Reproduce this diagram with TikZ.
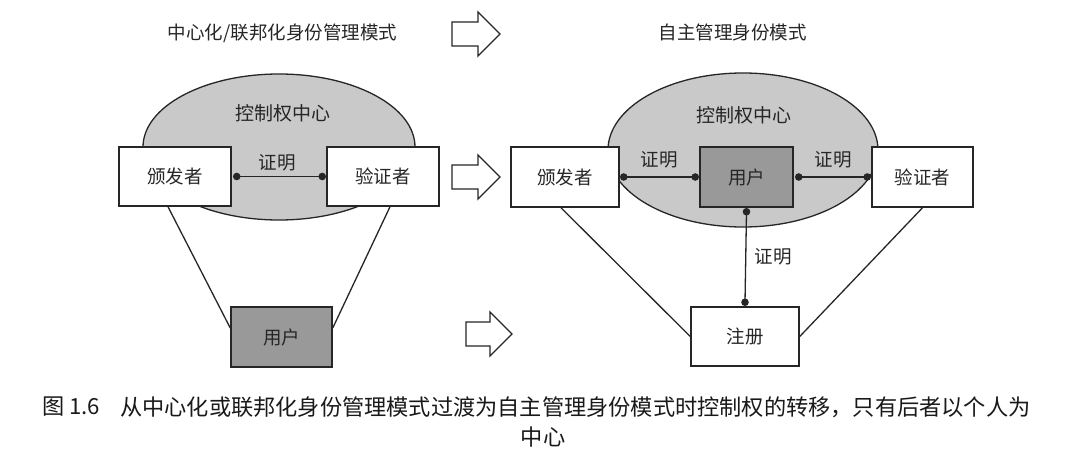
\documentclass[tikz,border=0pt]{standalone}
\usepackage{fontspec}
\setmainfont{Noto Sans CJK SC}
\begin{document}
\begin{tikzpicture}[x=1pt,y=-1pt,
  box/.style={draw=black!85, line width=1.5pt, fill=white, inner sep=0pt,
    font=\fontsize{18.5}{18.5}\selectfont, text=black!85},
  userbox/.style={box, fill=gray!80},
  ell/.style={draw=black!85, line width=1.3pt, fill=gray!42},
  conn/.style={draw=black!85, line width=1.3pt},
  dot/.style={fill=black!85},
  lbl/.style={font=\fontsize{18.5}{18.5}\selectfont, text=black!85, inner sep=0pt},
  bigarrow/.style={draw=black!85, line width=1.3pt, fill=white, line join=miter},
  captext/.style={font=\fontsize{22.2}{22.2}\selectfont, text=black!90, inner sep=0pt}]
\useasboundingbox (0,0) rectangle (1087,468);
\fill[white] (0,0) rectangle (1087,468);

% titles
\node[lbl] (t1) at (282.5,33) {中心化/联邦化身份管理模式};
\node[lbl] (t2) at (732.5,33) {自主管理身份模式};

% arrows
\draw[bigarrow] (452,22) -- (478,22) -- (478,12) -- (500,34) -- (478,56) -- (478,46) -- (452,46) -- cycle;
\draw[bigarrow] (452,165) -- (478,165) -- (478,155) -- (500,177) -- (478,199) -- (478,189) -- (452,189) -- cycle;
\draw[bigarrow] (466,322) -- (490,322) -- (490,312) -- (512,334) -- (490,356) -- (490,346) -- (466,346) -- cycle;

% ---------- left ----------
\draw[ell] (279,147) ellipse [x radius=136pt, y radius=73pt];
\node[lbl, font=\fontsize{19}{19}\selectfont] (c1) at (283,113) {控制权中心};
\node[box, minimum width=112pt, minimum height=59pt] (iss) at (175,176.5) {颁发者};
\node[box, minimum width=112pt, minimum height=59pt] (ver) at (383,176.5) {验证者};
\node[userbox, minimum width=101pt, minimum height=60pt] (usr) at (281.5,337) {用户};
\draw[conn] ([xshift=-7pt]iss.south) -- ([yshift=9pt]usr.west);
\draw[conn] ([xshift=7pt]ver.south) -- ([yshift=9pt]usr.east);
\draw[conn] ([xshift=5pt]iss.east) coordinate (p1) -- ([xshift=-4pt]ver.west) coordinate (p2);
\fill[dot] (p1) circle (3.8pt) (p2) circle (3.8pt);
\node[lbl] (l1) at (277,163) {证明};

% ---------- right ----------
\draw[ell] (743,150) ellipse [x radius=135pt, y radius=77pt];
\node[lbl, font=\fontsize{19}{19}\selectfont] (c2) at (744,115) {控制权中心};
\node[box, minimum width=108pt, minimum height=60pt] (iss2) at (565,177) {颁发者};
\node[userbox, minimum width=93pt, minimum height=60pt] (usr2) at (746.5,177) {用户};
\node[box, minimum width=101pt, minimum height=60pt] (ver2) at (922.5,177) {验证者};
\node[box, minimum width=108pt, minimum height=59pt] (reg) at (745,336.5) {注册};
\draw[conn] ([xshift=-4pt]iss2.south) -- (reg.west);
\draw[conn] (ver2.south) -- (reg.east);
\draw[conn] ([xshift=4pt]iss2.east) coordinate (q1) -- ([xshift=-4pt]usr2.west) coordinate (q2);
\draw[conn] ([xshift=5pt]usr2.east) coordinate (q3) -- ([xshift=-4pt]ver2.west) coordinate (q4);
\draw[conn] ([yshift=-4pt]usr2.south) coordinate (q5) -- ([yshift=4pt]reg.north) coordinate (q6);
\fill[dot] (q1) circle (3.8pt) (q2) circle (3.8pt) (q3) circle (3.8pt)
  (q4) circle (3.8pt) (q5) circle (3.8pt) (q6) circle (3.8pt);
\node[lbl] (l2) at (659,160) {证明};
\node[lbl] (l3) at (833,160) {证明};
\node[lbl] (l4) at (773,257) {证明};

% caption
\node[captext, anchor=west] (fig) at (42,407) {图 1.6};
\node[captext, anchor=west] (cap1) at (120,407) {从中心化或联邦化身份管理模式过渡为自主管理身份模式时控制权的转移，只有后者以个人为};
\node[captext] (cap2) at (543,437) {中心};
\end{tikzpicture}
\end{document}
